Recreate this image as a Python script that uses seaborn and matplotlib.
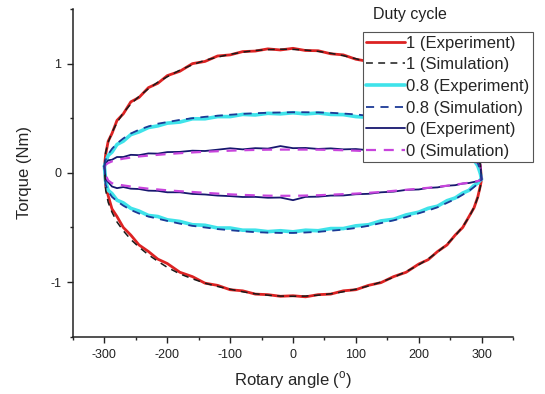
import matplotlib
matplotlib.use("Agg")
import matplotlib.pyplot as plt
from matplotlib.ticker import MultipleLocator
import seaborn as sns
import pandas as pd

# ---------------- data ----------------
angle = [-300, -298, -294, -288, -280, -270, -258, -245, -230, -215, -200, -180, -160, -140,
         -120, -100, -80, -60, -40, -20, 0, 20, 40, 60, 80, 100, 120, 140, 160, 180, 200,
         215, 230, 245, 258, 270, 280, 288, 294, 298, 300]

# duty cycle 1
d1_exp_up = [0.06, 0.17, 0.29, 0.36, 0.48, 0.54, 0.65, 0.69, 0.78, 0.82, 0.89, 0.93, 1.00, 1.02,
             1.07, 1.08, 1.11, 1.115, 1.135, 1.125, 1.14, 1.12, 1.118, 1.09, 1.08, 1.04, 1.02,
             0.965, 0.93, 0.86, 0.81, 0.74, 0.685, 0.60, 0.53, 0.43, 0.355, 0.25, 0.17, 0.06, -0.06]
d1_exp_lo = [0.06, -0.12, -0.21, -0.33, -0.40, -0.50, -0.57, -0.66, -0.72, -0.79, -0.83, -0.91,
             -0.95, -1.01, -1.03, -1.07, -1.08, -1.11, -1.115, -1.13, -1.125, -1.135, -1.115,
             -1.11, -1.08, -1.07, -1.03, -1.005, -0.95, -0.91, -0.835, -0.795, -0.72, -0.66,
             -0.57, -0.50, -0.40, -0.32, -0.22, -0.12, -0.06]
d1_sim_up = [0.06, 0.19, 0.28, 0.37, 0.46, 0.55, 0.63, 0.70, 0.77, 0.83, 0.88, 0.94, 0.99, 1.03,
             1.06, 1.085, 1.105, 1.12, 1.128, 1.132, 1.13, 1.124, 1.112, 1.095, 1.073, 1.045,
             1.012, 0.972, 0.924, 0.868, 0.802, 0.745, 0.679, 0.603, 0.525, 0.438, 0.350, 0.258,
             0.166, 0.07, -0.06]
d1_sim_lo = [0.06, -0.16, -0.27, -0.36, -0.45, -0.53, -0.61, -0.68, -0.75, -0.81, -0.865, -0.925,
             -0.97, -1.01, -1.04, -1.065, -1.089, -1.107, -1.12, -1.128, -1.13, -1.128, -1.12,
             -1.107, -1.089, -1.065, -1.036, -1.0, -0.956, -0.904, -0.842, -0.788, -0.725,
             -0.652, -0.577, -0.492, -0.406, -0.316, -0.225, -0.13, -0.06]

# duty cycle 0.8
d08_exp_up = [0.06, 0.10, 0.16, 0.19, 0.26, 0.29, 0.35, 0.375, 0.415, 0.43, 0.455, 0.465, 0.495,
              0.495, 0.515, 0.515, 0.535, 0.53, 0.545, 0.54, 0.55, 0.54, 0.548, 0.535, 0.533,
              0.515, 0.508, 0.485, 0.473, 0.445, 0.425, 0.385, 0.365, 0.315, 0.285, 0.225, 0.185,
              0.115, 0.065, -0.005, -0.06]
d08_exp_lo = [0.06, -0.08, -0.16, -0.19, -0.25, -0.275, -0.325, -0.35, -0.39, -0.40, -0.43, -0.445,
              -0.475, -0.48, -0.505, -0.505, -0.525, -0.525, -0.538, -0.53, -0.54, -0.525, -0.53,
              -0.51, -0.51, -0.485, -0.475, -0.44, -0.425, -0.385, -0.36, -0.325, -0.305, -0.255,
              -0.23, -0.185, -0.16, -0.115, -0.095, -0.065, -0.06]
d08_sim_up = [0.06, 0.12, 0.17, 0.22, 0.27, 0.315, 0.36, 0.395, 0.425, 0.45, 0.465, 0.485, 0.5,
              0.513, 0.523, 0.532, 0.54, 0.546, 0.55, 0.553, 0.555, 0.555, 0.553, 0.55, 0.543,
              0.535, 0.522, 0.507, 0.49, 0.47, 0.445, 0.42, 0.39, 0.355, 0.315, 0.27, 0.22, 0.16,
              0.09, 0.02, -0.06]
d08_sim_lo = [0.06, -0.11, -0.17, -0.22, -0.26, -0.30, -0.34, -0.372, -0.40, -0.42, -0.44, -0.465,
              -0.485, -0.50, -0.515, -0.525, -0.535, -0.543, -0.547, -0.55, -0.55, -0.546, -0.54,
              -0.53, -0.52, -0.505, -0.485, -0.46, -0.435, -0.405, -0.37, -0.345, -0.315, -0.275,
              -0.24, -0.2, -0.165, -0.13, -0.1, -0.075, -0.06]

# duty cycle 0
d0_exp_up = [0.06, 0.085, 0.115, 0.12, 0.145, 0.145, 0.165, 0.162, 0.178, 0.176, 0.19, 0.192,
             0.203, 0.2, 0.212, 0.225, 0.215, 0.226, 0.222, 0.245, 0.226, 0.228, 0.219, 0.224,
             0.215, 0.218, 0.207, 0.208, 0.197, 0.198, 0.186, 0.188, 0.177, 0.178, 0.166, 0.163,
             0.147, 0.143, 0.115, 0.085, -0.06]
d0_exp_lo = [0.06, -0.06, -0.085, -0.125, -0.14, -0.13, -0.145, -0.148, -0.163, -0.165, -0.178,
             -0.178, -0.193, -0.198, -0.208, -0.213, -0.221, -0.22, -0.228, -0.226, -0.25, -0.22,
             -0.218, -0.208, -0.207, -0.196, -0.192, -0.178, -0.172, -0.156, -0.152, -0.138,
             -0.133, -0.118, -0.113, -0.098, -0.093, -0.083, -0.077, -0.065, -0.06]
d0_sim_up = [0.06, 0.075, 0.09, 0.105, 0.118, 0.13, 0.14, 0.15, 0.158, 0.165, 0.172, 0.18, 0.187,
             0.193, 0.198, 0.203, 0.207, 0.21, 0.212, 0.213, 0.213, 0.213, 0.212, 0.21, 0.207,
             0.203, 0.198, 0.193, 0.187, 0.18, 0.172, 0.165, 0.158, 0.15, 0.14, 0.13, 0.118,
             0.105, 0.09, 0.07, -0.06]
d0_sim_lo = [0.06, -0.02, -0.07, -0.095, -0.105, -0.115, -0.125, -0.135, -0.145, -0.152, -0.16,
             -0.168, -0.175, -0.183, -0.19, -0.197, -0.202, -0.206, -0.209, -0.21, -0.21, -0.208,
             -0.205, -0.2, -0.195, -0.19, -0.183, -0.175, -0.165, -0.155, -0.145, -0.137, -0.128,
             -0.118, -0.108, -0.098, -0.09, -0.082, -0.075, -0.068, -0.06]

labels = ["1 (Experiment)", "1 (Simulation)", "0.8 (Experiment)", "0.8 (Simulation)",
          "0 (Experiment)", "0 (Simulation)"]
x_ticks = [-300, -200, -100, 0, 100, 200, 300]
y_ticks = [-1, 0, 1]


def loop(up, lo):
    xs = list(angle) + list(angle[::-1])
    ys = list(up) + list(lo[::-1])
    return pd.DataFrame({"angle": xs, "torque": ys})


# ---------------- style ----------------
sns.set_style("ticks")
plt.rcParams["font.family"] = ["Liberation Sans", "DejaVu Sans"]
plt.rcParams["mathtext.fontset"] = "custom"
plt.rcParams["mathtext.rm"] = "Liberation Sans"

fig = plt.figure(figsize=(5.45, 3.94), dpi=100)
ax = fig.add_axes([73 / 545, 1 - 336.7 / 394, 440 / 545, 327.7 / 394])

curves = [
    (d1_exp_up, d1_exp_lo, "#dc2222", 2.0, "-", 2),
    (d1_sim_up, d1_sim_lo, "#1a1a1a", 1.1, (0, (4.5, 3.5)), 5),
    (d08_exp_up, d08_exp_lo, "#3fe3ea", 2.6, "-", 2),
    (d08_sim_up, d08_sim_lo, "#1c3a96", 1.3, (0, (4.5, 3.5)), 5),
    (d0_exp_up, d0_exp_lo, "#17176e", 1.3, "-", 3),
    (d0_sim_up, d0_sim_lo, "#c844dc", 1.6, (0, (4.5, 3.5)), 4),
]

handles = []
for (up, lo, col, lw, ls, z) in curves:
    df = loop(up, lo)
    sns.lineplot(data=df, x="angle", y="torque", sort=False, estimator=None, ax=ax,
                 color=col, linewidth=lw, linestyle=ls, zorder=z)
    handles.append(ax.lines[-1])

ax.set_xlim(-350, 350)
ax.set_ylim(-1.5, 1.5)
ax.set_xticks(x_ticks)
ax.set_xticklabels([str(v) for v in x_ticks])
ax.set_yticks(y_ticks)
ax.set_yticklabels([str(v) for v in y_ticks])
ax.xaxis.set_minor_locator(MultipleLocator(50))
ax.yaxis.set_minor_locator(MultipleLocator(0.5))
ax.tick_params(which="major", direction="out", length=4.5, width=1.0, labelsize=9,
               colors="#222222", pad=4)
ax.tick_params(which="minor", direction="out", length=2.5, width=1.0)
for s in ["top", "right"]:
    ax.spines[s].set_visible(False)
for s in ["left", "bottom"]:
    ax.spines[s].set_linewidth(1.1)
    ax.spines[s].set_color("#222222")

ax.set_xlabel(r"Rotary angle ($^{\mathrm{o}}$)", fontsize=12, labelpad=6)
ax.set_ylabel("Torque (Nm)", fontsize=12, labelpad=13)

leg = ax.legend(handles, labels, loc="upper right", bbox_to_anchor=(1.045, 0.929),
                borderaxespad=0, fontsize=12, handlelength=2.3, handletextpad=0.1,
                labelspacing=0.4, borderpad=0.2, frameon=True, fancybox=False,
                framealpha=1, edgecolor="#555555")
leg.get_frame().set_linewidth(0.8)
leg.set_zorder(10)

fig.text(373 / 545, 1 - 15 / 394, "Duty cycle", fontsize=11.5, ha="left", va="center",
         color="#222222")

fig.savefig("out.png", dpi=100)
